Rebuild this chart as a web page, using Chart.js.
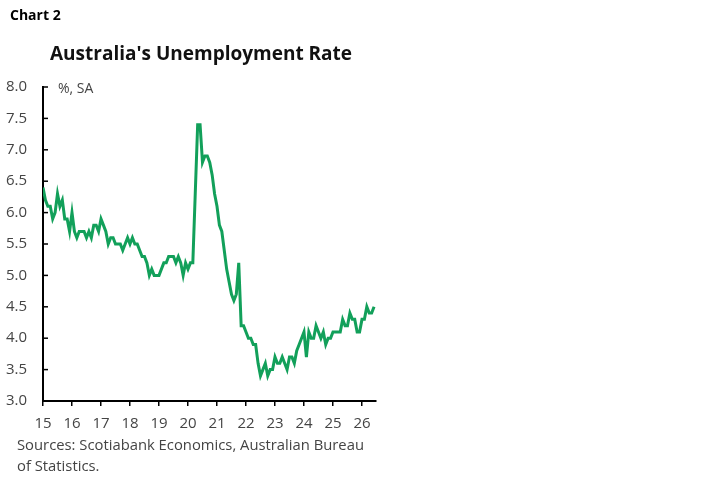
<!DOCTYPE html>
<html>
<head>
<meta charset="utf-8">
<script src="https://cdn.jsdelivr.net/npm/chart.js@4.4.1/dist/chart.umd.min.js"></script>
<style>
  body { margin: 0; background: #fff; font-family: "Open Sans", sans-serif; }
  #wrap { position: absolute; left: 0; top: 0; width: 704px; height: 482px; }
  .txt { position: absolute; white-space: nowrap; }
  #chartNo { left: 10px; top: 5px; font-size: 14px; font-weight: 700; color: #000; }
  #title { left: 50px; top: 40px; font-size: 19px; font-weight: 700; color: #111; }
  #unit { left: 58px; top: 78px; font-size: 14px; color: #444; }
  #source { left: 17px; top: 434px; font-size: 14.8px; color: #444; line-height: 21px; }
</style>
</head>
<body>
<div id="wrap"><canvas id="chart"></canvas></div>
<div class="txt" id="chartNo">Chart 2</div>
<div class="txt" id="title">Australia's Unemployment Rate</div>
<div class="txt" id="unit">%, SA</div>
<div class="txt" id="source">Sources: Scotiabank Economics, Australian Bureau<br>of Statistics.</div>
<script>
// monthly unemployment rate, Jan 2015 onwards (%, SA)
const rate2015 = [6.4, 6.2, 6.1, 6.1, 5.9, 6.0, 6.3, 6.1, 6.2, 5.9, 5.9, 5.7];
const rate2016 = [6.0, 5.7, 5.6, 5.7, 5.7, 5.7, 5.6, 5.7, 5.6, 5.8, 5.8, 5.7];
const rate2017 = [5.9, 5.8, 5.7, 5.5, 5.6, 5.6, 5.5, 5.5, 5.5, 5.4, 5.5, 5.6];
const rate2018 = [5.5, 5.6, 5.5, 5.5, 5.4, 5.3, 5.3, 5.2, 5.0, 5.1, 5.0, 5.0];
const rate2019 = [5.0, 5.1, 5.2, 5.2, 5.3, 5.3, 5.3, 5.2, 5.3, 5.2, 5.0, 5.2];
const rate2020 = [5.1, 5.2, 5.2, 6.3, 7.4, 7.4, 6.8, 6.9, 6.9, 6.8, 6.6, 6.3];
const rate2021 = [6.1, 5.8, 5.7, 5.4, 5.1, 4.9, 4.7, 4.6, 4.7, 5.2, 4.2, 4.2];
const rate2022 = [4.1, 4.0, 4.0, 3.9, 3.9, 3.6, 3.4, 3.5, 3.6, 3.4, 3.5, 3.5];
const rate2023 = [3.7, 3.6, 3.6, 3.7, 3.6, 3.5, 3.7, 3.7, 3.6, 3.8, 3.9, 4.0];
const rate2024 = [4.1, 3.7, 4.1, 4.0, 4.0, 4.2, 4.1, 4.0, 4.1, 3.9, 4.0, 4.0];
const rate2025 = [4.1, 4.1, 4.1, 4.1, 4.3, 4.2, 4.2, 4.4, 4.3, 4.3, 4.1, 4.1];
const rate2026 = [4.3, 4.3, 4.5, 4.4, 4.4, 4.5];

const yearLabels = ['15', '16', '17', '18', '19', '20', '21', '22', '23', '24', '25', '26'];
const yTicks = [3.0, 3.5, 4.0, 4.5, 5.0, 5.5, 6.0, 6.5, 7.0, 7.5, 8.0];

const rates = [].concat(rate2015, rate2016, rate2017, rate2018, rate2019, rate2020,
                        rate2021, rate2022, rate2023, rate2024, rate2025, rate2026);
const points = rates.map((v, i) => ({ x: i, y: v }));
const yearTicks = yearLabels.map((l, i) => i * 12);

// small tick marks pointing into the plot on the y axis
const innerTicks = {
    id: 'innerTicks',
    afterDraw(chart) {
        const ctx = chart.ctx;
        const y = chart.scales.y;
        ctx.save();
        ctx.strokeStyle = '#000';
        ctx.lineWidth = 1.5;
        yTicks.forEach(v => {
            const py = y.getPixelForValue(v);
            ctx.beginPath();
            ctx.moveTo(y.right, py);
            ctx.lineTo(y.right + 5, py);
            ctx.stroke();
        });
        ctx.restore();
    }
};

const ctx = document.getElementById('chart').getContext('2d');
new Chart(ctx, {
    type: 'line',
    data: {
        datasets: [{
            data: points,
            borderColor: '#12a05a',
            borderWidth: 3,
            pointRadius: 0,
            tension: 0
        }]
    },
    options: {
        responsive: true,
        maintainAspectRatio: false,
        animation: false,
        layout: { padding: { left: 0, right: 328, top: 87, bottom: 51 } },
        plugins: { legend: { display: false }, tooltip: { enabled: false } },
        scales: {
            x: {
                type: 'linear',
                min: 0,
                max: 137.8,
                afterBuildTicks: s => { s.ticks = yearTicks.map(v => ({ value: v })); },
                afterFit: s => { s.height = 30; },
                grid: { drawOnChartArea: false, tickLength: 5, color: '#000', lineWidth: 1.5 },
                border: { color: '#000', width: 2 },
                ticks: {
                    autoSkip: false,
                    maxRotation: 0,
                    padding: 9,
                    color: '#444',
                    font: { family: 'Open Sans', size: 15 },
                    callback: v => yearLabels[v / 12]
                }
            },
            y: {
                min: 3,
                max: 8,
                afterBuildTicks: s => { s.ticks = yTicks.map(v => ({ value: v })); },
                afterFit: s => { s.width = 43; },
                grid: { drawOnChartArea: false, drawTicks: false },
                border: { color: '#000', width: 2 },
                ticks: {
                    padding: 16,
                    color: '#444',
                    font: { family: 'Open Sans', size: 15 },
                    callback: v => v.toFixed(1)
                }
            }
        }
    },
    plugins: [innerTicks]
});
</script>
</body>
</html>
